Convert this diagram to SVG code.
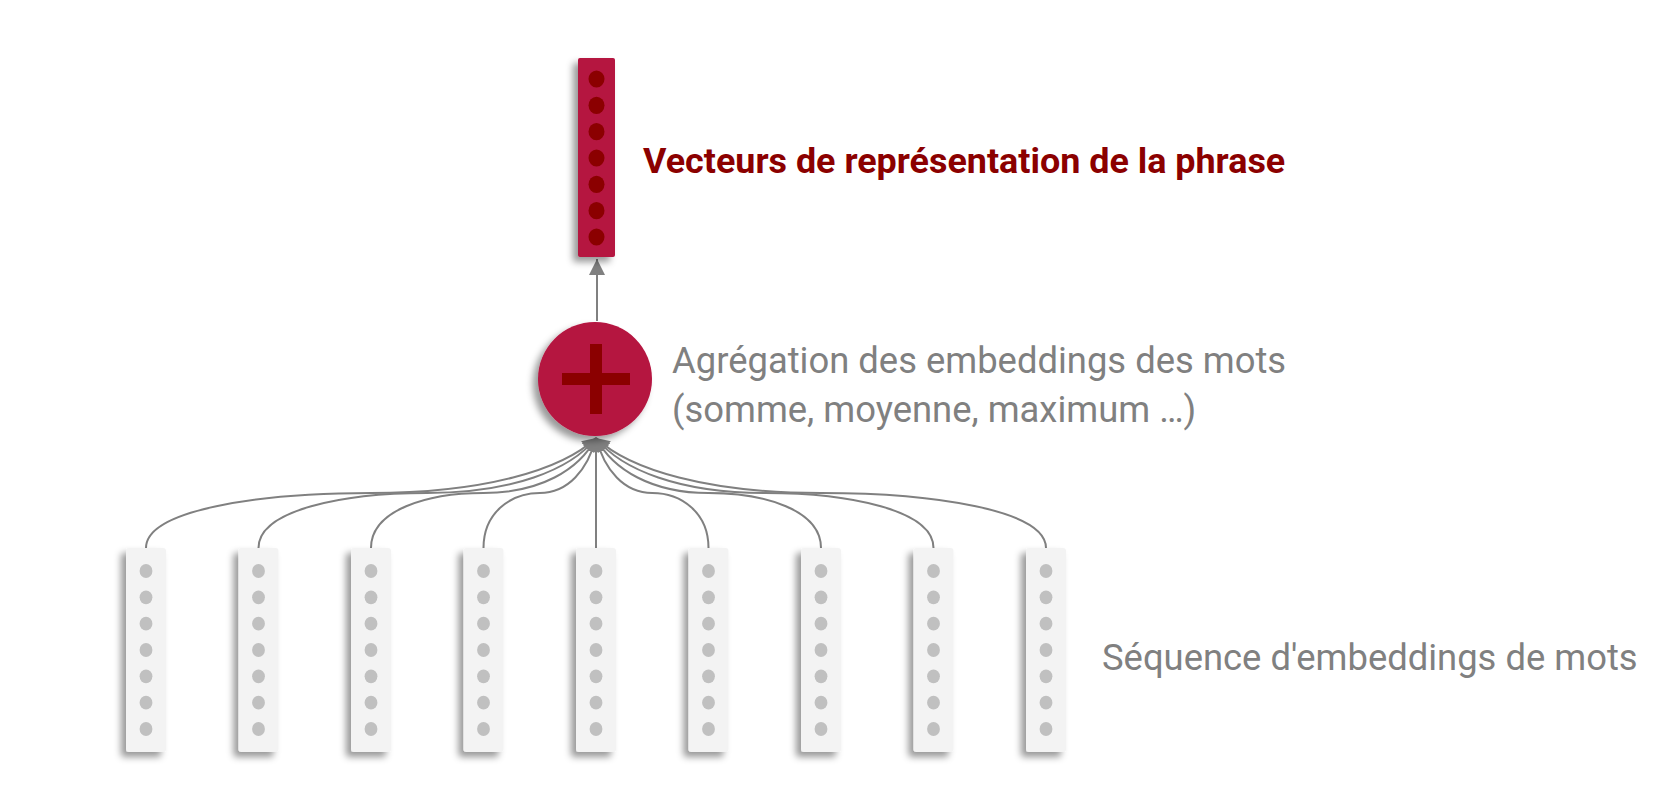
<svg xmlns="http://www.w3.org/2000/svg" width="1680" height="794" viewBox="0 0 1680 794">
  <defs>
    <style>
      .vec { fill: #f3f3f3; filter: url(#sh); }
      .dot { fill: #c0c0c0; }
      .rdot { fill: #8b0000; }
      .conn { fill: none; stroke: #808080; stroke-width: 2; marker-end: url(#ah); }
      .lbl { font-family: Roboto, "Liberation Sans", sans-serif; font-size: 36.4px; fill: #808080; }
      .title { font-family: Roboto, "Liberation Sans", sans-serif; font-size: 35.9px; font-weight: bold; fill: #8b0000; }
    </style>
    <filter id="sh" x="-60%" y="-20%" width="220%" height="140%">
      <feDropShadow dx="-5" dy="5" stdDeviation="3.5" flood-color="#000" flood-opacity="0.4"/>
    </filter>
    <marker id="ah" markerWidth="18" markerHeight="16" refX="13" refY="8" orient="auto" markerUnits="userSpaceOnUse">
      <path d="M0,0 L13,8 L0,16 z" fill="#808080"/>
    </marker>
    <marker id="ah2" markerWidth="18" markerHeight="18" refX="16" refY="8" orient="auto" markerUnits="userSpaceOnUse">
      <path d="M0,0 L16,8 L0,16 z" fill="#808080"/>
    </marker>
    <g id="bdots">
      <ellipse class="dot" cx="0" cy="571" rx="6.4" ry="6.9"/>
      <ellipse class="dot" cx="0" cy="597.3" rx="6.4" ry="6.9"/>
      <ellipse class="dot" cx="0" cy="623.7" rx="6.4" ry="6.9"/>
      <ellipse class="dot" cx="0" cy="650" rx="6.4" ry="6.9"/>
      <ellipse class="dot" cx="0" cy="676.3" rx="6.4" ry="6.9"/>
      <ellipse class="dot" cx="0" cy="702.7" rx="6.4" ry="6.9"/>
      <ellipse class="dot" cx="0" cy="729" rx="6.4" ry="6.9"/>
    </g>
  </defs>
  <rect width="1680" height="794" fill="#ffffff"/>

  <g id="connectors">
    <line x1="597" y1="321" x2="597" y2="259" stroke="#808080" stroke-width="2" marker-end="url(#ah2)"/>
    <path class="conn" d="M146,548 C146,510 258.5,493 371,493 C483.5,493 562.25,470 596,438"/>
    <path class="conn" d="M258.5,548 C258.5,510 342.9,493 427.25,493 C511.6,493 570.7,470 596,438"/>
    <path class="conn" d="M371,548 C371,510 427.25,493 483.5,493 C539.75,493 579.1,470 596,438"/>
    <path class="conn" d="M483.5,548 C483.5,512 511.6,493 539.75,493 C567.9,493 587.6,470 596,438"/>
    <path class="conn" d="M596,548 L596,438"/>
    <path class="conn" d="M708.5,548 C708.5,512 680.4,493 652.25,493 C624.1,493 604.4,470 596,438"/>
    <path class="conn" d="M821,548 C821,510 764.75,493 708.5,493 C652.25,493 612.9,470 596,438"/>
    <path class="conn" d="M933.5,548 C933.5,510 849.1,493 764.75,493 C680.4,493 621.3,470 596,438"/>
    <path class="conn" d="M1046,548 C1046,510 933.5,493 821,493 C708.5,493 629.75,470 596,438"/>
  </g>

  <g id="sentence-vector">
    <rect x="578" y="58" width="37" height="199" rx="2" fill="#b5133f" filter="url(#sh)"/>
    <ellipse class="rdot" cx="596.5" cy="79" rx="8" ry="8.6"/>
    <ellipse class="rdot" cx="596.5" cy="105.3" rx="8" ry="8.6"/>
    <ellipse class="rdot" cx="596.5" cy="131.7" rx="8" ry="8.6"/>
    <ellipse class="rdot" cx="596.5" cy="158" rx="8" ry="8.6"/>
    <ellipse class="rdot" cx="596.5" cy="184.3" rx="8" ry="8.6"/>
    <ellipse class="rdot" cx="596.5" cy="210.7" rx="8" ry="8.6"/>
    <ellipse class="rdot" cx="596.5" cy="237" rx="8" ry="8.6"/>
  </g>

  <g id="aggregation">
    <circle cx="595" cy="379" r="57" fill="#b5133f" filter="url(#sh)"/>
    <rect x="562" y="373" width="68" height="12" fill="#8b0000"/>
    <rect x="590" y="344" width="12" height="70" fill="#8b0000"/>
  </g>

  <g id="word-vectors">
    <g id="w1"><rect class="vec" x="126" y="548" width="40" height="204" rx="3"/><use href="#bdots" x="146"/></g>
    <g id="w2"><rect class="vec" x="238.5" y="548" width="40" height="204" rx="3"/><use href="#bdots" x="258.5"/></g>
    <g id="w3"><rect class="vec" x="351" y="548" width="40" height="204" rx="3"/><use href="#bdots" x="371"/></g>
    <g id="w4"><rect class="vec" x="463.5" y="548" width="40" height="204" rx="3"/><use href="#bdots" x="483.5"/></g>
    <g id="w5"><rect class="vec" x="576" y="548" width="40" height="204" rx="3"/><use href="#bdots" x="596"/></g>
    <g id="w6"><rect class="vec" x="688.5" y="548" width="40" height="204" rx="3"/><use href="#bdots" x="708.5"/></g>
    <g id="w7"><rect class="vec" x="801" y="548" width="40" height="204" rx="3"/><use href="#bdots" x="821"/></g>
    <g id="w8"><rect class="vec" x="913.5" y="548" width="40" height="204" rx="3"/><use href="#bdots" x="933.5"/></g>
    <g id="w9"><rect class="vec" x="1026" y="548" width="40" height="204" rx="3"/><use href="#bdots" x="1046"/></g>
  </g>

  <g id="labels">
    <text class="title" x="643" y="173">Vecteurs de représentation de la phrase</text>
    <text class="lbl" x="672" y="373">Agrégation des embeddings des mots</text>
    <text class="lbl" x="672" y="422">(somme, moyenne, maximum …)</text>
    <text class="lbl" x="1102" y="670">Séquence d'embeddings de mots</text>
  </g>
</svg>
